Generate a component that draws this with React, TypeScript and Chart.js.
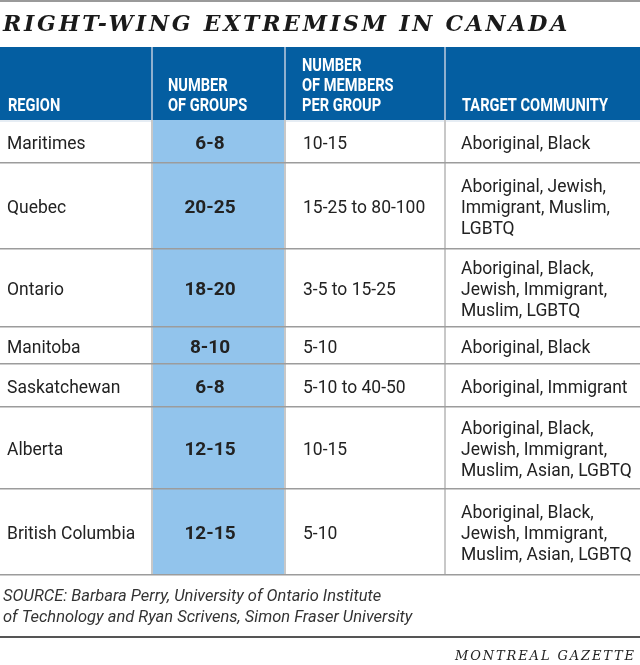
import React, { useEffect, useRef } from "react";
import { Chart, registerables } from "chart.js";

Chart.register(...registerables);

// ---- data ----
const titleText = "RIGHT-WING EXTREMISM IN CANADA";
const headerLabels = [["REGION"], ["NUMBER", "OF GROUPS"], ["NUMBER", "OF MEMBERS", "PER GROUP"], ["TARGET COMMUNITY"]];
const regions = ["Maritimes", "Quebec", "Ontario", "Manitoba", "Saskatchewan", "Alberta", "British Columbia"];
const numberOfGroups = ["6-8", "20-25", "18-20", "8-10", "6-8", "12-15", "12-15"];
const membersPerGroup = ["10-15", "15-25 to 80-100", "3-5 to 15-25", "5-10", "5-10 to 40-50", "10-15", "5-10"];
const targetCommunity = [
  ["Aboriginal, Black"],
  ["Aboriginal, Jewish,", "Immigrant, Muslim,", "LGBTQ"],
  ["Aboriginal, Black,", "Jewish, Immigrant,", "Muslim, LGBTQ"],
  ["Aboriginal, Black"],
  ["Aboriginal, Immigrant"],
  ["Aboriginal, Black,", "Jewish, Immigrant,", "Muslim, Asian, LGBTQ"],
  ["Aboriginal, Black,", "Jewish, Immigrant,", "Muslim, Asian, LGBTQ"],
];
const sourceLines = [
  "SOURCE: Barbara Perry, University of Ontario Institute",
  "of Technology and Ryan Scrivens, Simon Fraser University",
];
const creditText = "MONTREAL GAZETTE";

// ---- layout ----
const W = 640;
const H = 665;
const columnEdges = [0, 151, 284, 444, 640];
const headerTop = 47;
const headerBottom = 120;
const rowHeights = [43, 86, 78, 37, 43, 82, 86];
const headerPad = [8, 17, 18, 18];
const bodyPad = [7, 59, 19, 17];

const HEADER_BG = "#045ea1";
const HIGHLIGHT = "#92c4ec";
const TEXT = "#222222";

function drawScaled(ctx: CanvasRenderingContext2D, text: string, x: number, y: number, sx: number) {
  ctx.save();
  ctx.translate(x, y);
  ctx.scale(sx, 1);
  ctx.fillText(text, 0, 0);
  ctx.restore();
}

const tablePlugin = {
  id: "tablePlugin",
  afterDraw(chart: any) {
    const ctx: CanvasRenderingContext2D = chart.ctx;
    const xs = chart.scales.x;
    const ys = chart.scales.y;
    const px = (v: number) => xs.getPixelForValue(v);
    const py = (v: number) => ys.getPixelForValue(v);

    ctx.save();
    ctx.fillStyle = "#ffffff";
    ctx.fillRect(px(0), py(0), px(W) - px(0), py(H) - py(0));

    // top rule
    ctx.fillStyle = "#9a9a9a";
    ctx.fillRect(px(0), py(0), px(W) - px(0), 2);

    // title
    ctx.fillStyle = "#1a1a1a";
    ctx.font = 'italic bold 22px "DejaVu Serif"';
    ctx.textAlign = "left";
    ctx.textBaseline = "alphabetic";
    (ctx as any).letterSpacing = "0px";
    const tw = ctx.measureText(titleText).width;
    const ls = (567 - tw) / titleText.length;
    (ctx as any).letterSpacing = ls + "px";
    ctx.fillText(titleText, px(3), py(31));
    (ctx as any).letterSpacing = "0px";

    // row boundaries
    const rowEdges = [headerBottom];
    rowHeights.forEach((h) => rowEdges.push(rowEdges[rowEdges.length - 1] + h));
    const tableBottom = rowEdges[rowEdges.length - 1];

    // header band
    ctx.fillStyle = HEADER_BG;
    ctx.fillRect(px(0), py(headerTop), px(W) - px(0), py(headerBottom) - py(headerTop));
    ctx.fillStyle = "#8fb0cf";
    for (let c = 1; c < columnEdges.length - 1; c++) {
      ctx.fillRect(px(columnEdges[c]), py(headerTop), 2, py(headerBottom) - py(headerTop));
    }
    ctx.fillStyle = "#e6edf4";
    ctx.fillRect(px(0), py(headerBottom), px(W) - px(0), 2);

    // highlighted column
    ctx.fillStyle = HIGHLIGHT;
    ctx.fillRect(px(columnEdges[1]), py(headerBottom), px(columnEdges[2]) - px(columnEdges[1]), py(tableBottom) - py(headerBottom));

    // vertical dividers
    ctx.fillStyle = "#c8c8c8";
    for (let c = 1; c < columnEdges.length - 1; c++) {
      ctx.fillRect(px(columnEdges[c]), py(headerBottom), 2, py(tableBottom) - py(headerBottom));
    }

    // horizontal row rules
    ctx.fillStyle = "#9c9c9c";
    for (let r = 1; r < rowEdges.length; r++) {
      ctx.fillRect(px(0), py(rowEdges[r]) - 1, px(W) - px(0), 1.5);
    }

    // header text
    ctx.fillStyle = "#ffffff";
    ctx.font = 'bold 19px Roboto';
    headerLabels.forEach((lines, c) => {
      lines.forEach((line, i) => {
        const baseline = 111 - (lines.length - 1 - i) * 20;
        drawScaled(ctx, line, px(columnEdges[c] + headerPad[c]), py(baseline), 0.77);
      });
    });

    // body text
    const lh = 21;
    const bodyScale = 0.92;
    regions.forEach((region, r) => {
      const center = (rowEdges[r] + rowEdges[r + 1]) / 2;
      const base = center + 7;
      ctx.fillStyle = TEXT;
      ctx.font = '19px Roboto';
      ctx.textAlign = "left";
      drawScaled(ctx, region, px(columnEdges[0] + bodyPad[0]), py(base), bodyScale);

      ctx.font = 'bold 19px Roboto';
      ctx.textAlign = "center";
      ctx.fillText(numberOfGroups[r], px(columnEdges[1] + bodyPad[1]), py(base));

      ctx.font = '19px Roboto';
      ctx.textAlign = "left";
      drawScaled(ctx, membersPerGroup[r], px(columnEdges[2] + bodyPad[2]), py(base), bodyScale);

      const tl = targetCommunity[r];
      tl.forEach((line, i) => {
        const b = base - ((tl.length - 1) / 2) * lh + i * lh;
        drawScaled(ctx, line, px(columnEdges[3] + bodyPad[3]), py(b), bodyScale);
      });
    });

    // source
    ctx.fillStyle = "#333333";
    ctx.font = 'italic 17px Roboto';
    ctx.textAlign = "left";
    sourceLines.forEach((line, i) => {
      drawScaled(ctx, line, px(3), py(601 + i * 21), 0.97);
    });

    // bottom rule
    ctx.fillStyle = "#555555";
    ctx.fillRect(px(0), py(636), px(W) - px(0), 2);

    // credit
    ctx.fillStyle = "#222222";
    ctx.font = 'italic 13px "DejaVu Serif"';
    (ctx as any).letterSpacing = "0px";
    const cw = ctx.measureText(creditText).width;
    const cls = (181 - cw) / creditText.length;
    (ctx as any).letterSpacing = cls + "px";
    ctx.textAlign = "left";
    ctx.fillText(creditText, px(636 - 181), py(660));
    (ctx as any).letterSpacing = "0px";

    ctx.restore();
  },
};

export default function App() {
  const canvasRef = useRef<HTMLCanvasElement | null>(null);

  useEffect(() => {
    if (!canvasRef.current) return;
    const chart = new Chart(canvasRef.current, {
      type: "scatter",
      data: { datasets: [{ data: [], pointRadius: 0 }] },
      options: {
        responsive: false,
        animation: false,
        maintainAspectRatio: false,
        layout: { padding: 0 },
        plugins: { legend: { display: false }, tooltip: { enabled: false } },
        scales: {
          x: { type: "linear", min: 0, max: W, display: false },
          y: { type: "linear", min: 0, max: H, reverse: true, display: false },
        },
      },
      plugins: [tablePlugin],
    });
    return () => chart.destroy();
  }, []);

  return (
    <div style={{ position: "fixed", left: 0, top: 0, width: W, height: H, background: "#fff" }}>
      <canvas ref={canvasRef} width={W} height={H} style={{ display: "block", width: W, height: H }} />
    </div>
  );
}
